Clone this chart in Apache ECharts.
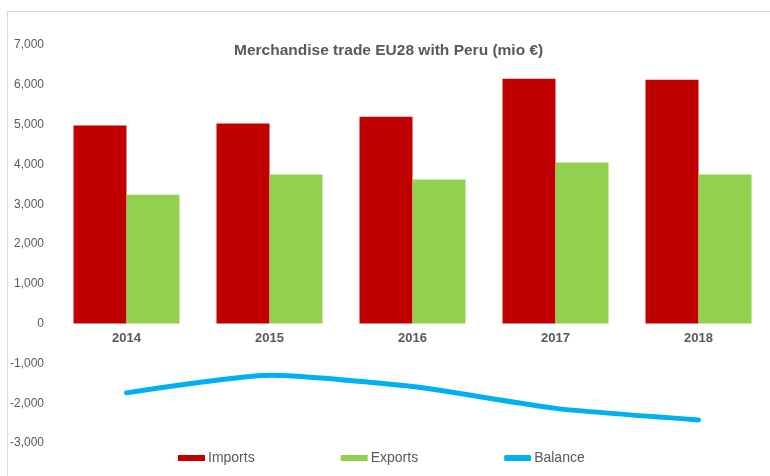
<!DOCTYPE html>
<html>
<head>
<meta charset="utf-8">
<script src="https://cdn.jsdelivr.net/npm/echarts@6/dist/echarts.min.js"></script>
<style>
  body { margin: 0; background: #fff; }
  #frame { position: absolute; left: 7px; top: 11px; width: 800px; height: 500px; border: 1px solid #d9d9d9; box-sizing: border-box; }
  #myChart { position: absolute; left: 0; top: 0; width: 770px; height: 476px; }
</style>
</head>
<body>
<div id="frame"></div>
<div id="myChart"></div>
<script>
// chart data (mio €)
const years = ["2014", "2015", "2016", "2017", "2018"];
const imports = [4975, 5025, 5200, 6155, 6130];
const exportsData = [3240, 3745, 3620, 4045, 3745];
const balance = [-1740, -1300, -1580, -2130, -2420];

const textGray = "#595959";

let myChart = echarts.init(document.getElementById("myChart"));
myChart.setOption({
  animation: false,
  title: {
    text: "Merchandise trade EU28 with Peru (mio €)",
    left: 234,
    top: 43,
    padding: 0,
    textStyle: {
      color: textGray,
      fontSize: 15.5,
      fontWeight: "bold",
      fontFamily: "Liberation Sans",
    },
  },
  legend: {
    left: 173,
    top: 446,
    itemWidth: 27,
    itemHeight: 6,
    itemGap: 86,
    textStyle: { color: textGray, fontSize: 14, fontFamily: "Liberation Sans", padding: [0, 0, 0, -2] },
    data: [
      { name: "Imports", icon: "rect" },
      { name: "Exports", icon: "rect" },
      { name: "Balance", icon: "roundRect" },
    ],
  },
  grid: {
    left: 55,
    top: 45,
    width: 719,
    height: 398,
  },
  xAxis: {
    type: "category",
    data: years,
    // move the labels up to the zero line
    offset: -120,
    axisLine: { show: false },
    axisTick: { show: false },
    axisLabel: {
      color: textGray,
      fontSize: 13,
      fontWeight: "bold",
      fontFamily: "Liberation Sans",
      margin: 9,
    },
  },
  yAxis: {
    type: "value",
    min: -3000,
    max: 7000,
    interval: 1000,
    splitLine: { show: false },
    axisLine: { show: false },
    axisTick: { show: false },
    axisLabel: {
      color: textGray,
      fontSize: 12,
      fontFamily: "Liberation Sans",
      margin: 11,
      formatter: (v) => v.toLocaleString("en-US"),
    },
  },
  series: [
    {
      name: "Imports",
      type: "bar",
      data: imports,
      barWidth: 53,
      barGap: "0%",
      itemStyle: { color: "#c00000" },
    },
    {
      name: "Exports",
      type: "bar",
      data: exportsData,
      barWidth: 53,
      itemStyle: { color: "#92d050" },
    },
    {
      name: "Balance",
      type: "line",
      data: balance,
      smooth: 0.2,
      symbol: "none",
      lineStyle: { color: "#00b0f0", width: 5, cap: "round" },
      itemStyle: { color: "#00b0f0" },
    },
  ],
});
</script>
</body>
</html>
